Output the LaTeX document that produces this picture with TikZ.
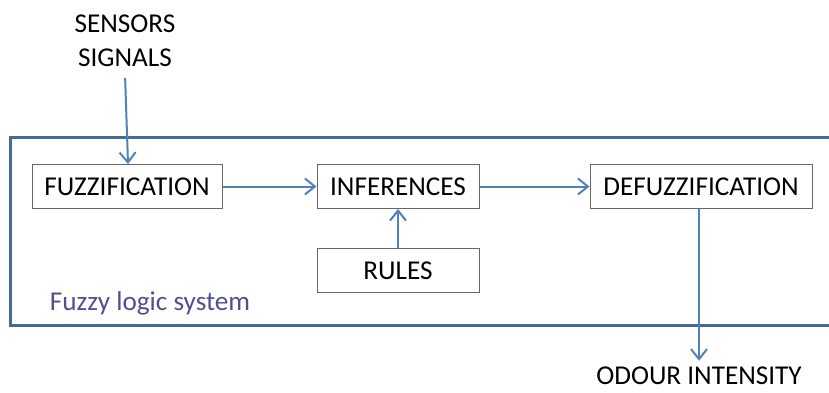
\documentclass[tikz,border=0pt]{standalone}
\usepackage{fontspec}
\setmainfont{Carlito}
\usepackage{tikz}
\usetikzlibrary{calc, positioning, arrows.meta}
\definecolor{arrblue}{RGB}{79,129,189}
\definecolor{frameblue}{RGB}{74,104,150}
\definecolor{labelblue}{RGB}{80,80,145}
\tikzstyle{blk}=[draw=black!60, line width=0.5pt, minimum height=22pt, inner sep=0pt, font=\fontsize{13.6}{16}\selectfont]
\tikzstyle{arr}=[draw=arrblue, line width=1pt, -{Straight Barb[length=5pt, width=8pt, line width=1pt]}]
\tikzset{>=stealth}

\begin{document}
\begin{tikzpicture}[x=0.5pt, y=-0.5pt]
\useasboundingbox (0,0) rectangle (829,392);
\clip (0,0) rectangle (829,392);
\draw[frameblue, line width=1.5pt] (10,137) rectangle (845,325);
\node[labelblue, font=\fontsize{13.6}{16}\selectfont] (title) at (150,303) {Fuzzy logic system};

\node[blk, minimum width=95pt] (fuzz) at (127,186.5) {FUZZIFICATION};
\node[blk, minimum width=81pt] (infer) at (398,186.5) {INFERENCES};
\node[blk, minimum width=81pt] (rules) at (398,270.5) {RULES};
\node[blk, minimum width=111pt] (defuzz) at (701,186.5) {DEFUZZIFICATION};
\node[align=center, font=\fontsize{13.6}{17}\selectfont] (sensors) at (125,41) {SENSORS\\SIGNALS};
\node[font=\fontsize{13.6}{16}\selectfont, inner sep=1pt] (odour) at (699,376) {ODOUR INTENSITY};

\draw[arr, shorten <=2pt] (sensors.south) -- ([xshift=0.5pt]fuzz.north);
\draw[arr] (fuzz.east) -- (infer.west);
\draw[arr] (infer.east) -- (defuzz.west);
\draw[arr] (rules.north) -- (infer.south);
\draw[arr, shorten >=2pt] (defuzz.south -| odour.north) -- (odour.north);
\end{tikzpicture}
\end{document}
